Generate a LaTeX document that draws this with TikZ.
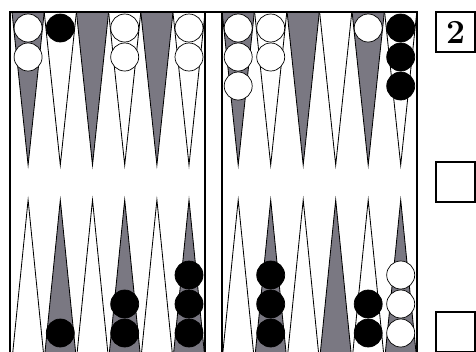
\documentclass[tikz,border=0pt]{standalone}
\usepackage{fontspec}
\usepackage{tikz}
\definecolor{ptgray}{RGB}{122,120,130}
\tikzset{
  pointline/.style={draw=black,line width=1.2pt,line join=miter},
  checker/.style={draw=black,line width=1pt},
  frameline/.style={draw=black,line width=2.2pt},
  cubebox/.style={draw=black,line width=2.4pt,fill=white,minimum width=1.95cm,minimum height=2cm,inner sep=0pt,font=\fontsize{48}{52}\selectfont\bfseries}
}
\begin{document}
\begin{tikzpicture}[x=0.05cm,y=-0.05cm]
    \useasboundingbox (0,0) rectangle (476,351);
    \clip (0,0) rectangle (476,351);
    \def\w{16.1}
    \def\r{14}
    % ---- top points ----
    \foreach \x/\f in {28.1/ptgray,60.3/white,92.5/ptgray,124.7/white,156.9/ptgray,189/white,
                       238.2/ptgray,270.7/white,303.2/ptgray,335.7/white,368.2/ptgray,400.7/white}
        \draw[pointline,fill=\f] (\x-\w,12) -- (\x,165) -- (\x+\w,12) -- cycle;
    % ---- bottom points ----
    \foreach \x/\f in {28.1/white,60.3/ptgray,92.5/white,124.7/ptgray,156.9/white,189/ptgray,
                       238.2/white,270.7/ptgray,303.2/white,335.7/ptgray,368.2/white,400.7/ptgray}
        \draw[pointline,fill=\f] (\x-\w,360) -- (\x,200) -- (\x+\w,360) -- cycle;
    % ---- board frame and bar ----
    \draw[frameline] (10,360) -- (10,12) -- (417,12) -- (417,360);
    \draw[frameline] (205,12) -- (205,360);
    \draw[frameline] (222,12) -- (222,360);
    % ---- checkers, top ----
    \foreach \x/\y/\f in {28.1/28/white,28.1/57/white,60.3/28/black,
                          124.7/28/white,124.7/57/white,189/28/white,189/57/white,
                          238.2/28/white,238.2/57/white,238.2/86/white,
                          270.7/28/white,270.7/57/white,368.2/28/white,
                          400.7/28/black,400.7/57/black,400.7/86/black}
        \draw[checker,fill=\f] (\x,\y) circle (\r);
    % ---- checkers, bottom ----
    \foreach \x/\y/\f in {60.3/333/black,124.7/333/black,124.7/304/black,
                          189/333/black,189/304/black,189/275/black,
                          270.7/333/black,270.7/304/black,270.7/275/black,
                          368.2/333/black,368.2/304/black,
                          400.7/333/white,400.7/304/white,400.7/275/white}
        \draw[checker,fill=\f] (\x,\y) circle (\r);
    % ---- cube and boxes ----
    \node[cubebox] (cube) at (455.5,32) {2};
    \node[cubebox] (boxmid) at (455.5,182) {};
    \node[cubebox] (boxlow) at (455.5,332) {};
\end{tikzpicture}
\end{document}
